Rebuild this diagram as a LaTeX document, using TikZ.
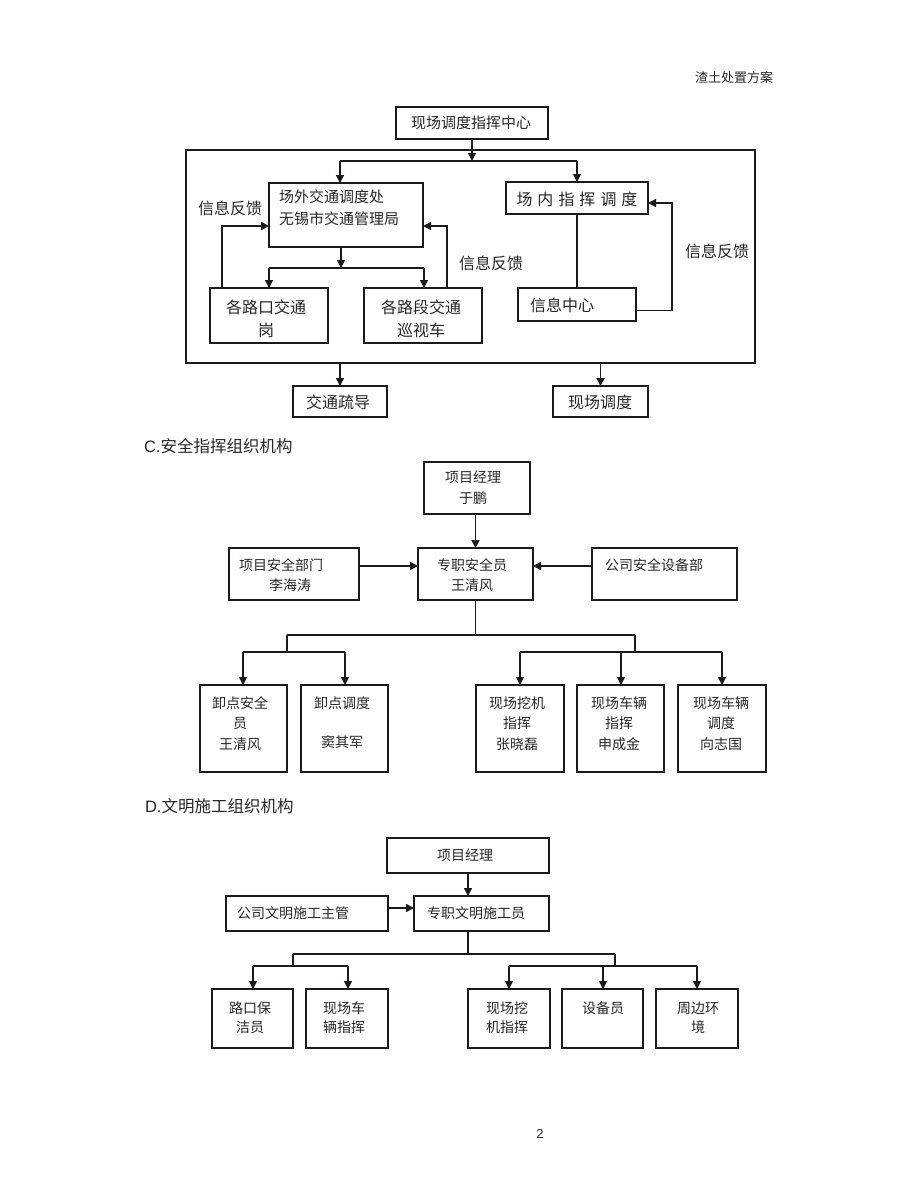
\documentclass[tikz,border=0pt]{standalone}
\usepackage{fontspec}
\newfontfamily\cjk{Noto Sans CJK SC}
\newfontfamily\arialf{Liberation Sans}
\usetikzlibrary{arrows.meta}
\definecolor{ink}{HTML}{1A1A1A}
\definecolor{txt}{HTML}{262626}
\newcommand\mybox[6][box]{\node[#1,minimum width={(#5-#3)*1pt},minimum height={(#6-#4)*1pt}] (#2) at ({(#3+#5)/2},{(#4+#6)/2}) {};}
\tikzset{
  box/.style={draw=ink,line width=1.4pt,inner sep=0pt,outer sep=0pt},
  bxc/.style={box,line width=1.7pt},
  bxd/.style={box,line width=1.9pt},
  ln/.style={draw=ink,line width=1.5pt},
  lnc/.style={draw=ink,line width=1.6pt},
  arr/.style={ln,-{Triangle[length=8pt,width=8pt]}},
  arrc/.style={lnc,-{Triangle[length=8pt,width=8pt]}},
  fbk/.style={arr,line width=2.2pt},
  tx/.style={inner sep=0pt,outer sep=0pt,text=txt,align=center},
  sa/.style={tx,font=\cjk\fontsize{15}{22}\selectfont},
  sb/.style={tx,font=\cjk\fontsize{16}{23}\selectfont},
  sc/.style={tx,font=\cjk\fontsize{14}{20.5}\selectfont},
  sd/.style={tx,font=\cjk\fontsize{14}{19}\selectfont},
  hd/.style={tx,font=\cjk\fontsize{16.5}{20}\selectfont},
}
\begin{document}
\begin{tikzpicture}[x=1pt,y=-1pt]
\useasboundingbox[fill=white] (0,0) rectangle (920,1192);
% page header and number
\node[tx,anchor=east,font=\cjk\fontsize{13}{15}\selectfont] (hdr) at (773,78) {渣土处置方案};
\node[tx,font=\arialf\fontsize{13}{15}\selectfont] (pg) at (540,1134) {2};

% ---------------- section 1 ----------------
\mybox{top}{396}{107}{548}{139}
\node[sa] (top-t) at (471,123) {现场调度指挥中心};
\mybox{outer}{186}{150}{755}{363}
\mybox{wai}{269}{183}{423}{247}
\node[sa,anchor=west,align=left] (wai-t) at (279,208) {场外交通调度处\\无锡市交通管理局};
\mybox{nei}{506}{182}{648}{214}
\node[sb] (nei-t) at (577,199) {场\hspace{5pt}内\hspace{5pt}指\hspace{5pt}挥\hspace{5pt}调\hspace{5pt}度};
\mybox{xin}{518}{288}{636}{321}
\node[sb,anchor=west] (xin-t) at (530,305) {信息中心};
\mybox{lukou}{210}{288}{328}{343}
\node[sb] (lukou-t) at (266,318.5) {各路口交通\\岗};
\mybox{luduan}{364}{288}{482}{343}
\node[sb] (luduan-t) at (421,318.5) {各路段交通\\巡视车};
\mybox{shudao}{293}{386}{387}{417}
\node[sb] (shudao-t) at (338,402) {交通疏导};
\mybox{xcdd}{553}{386}{648}{417}
\node[sb] (xcdd-t) at (600,402) {现场调度};
\node[sb] (fb1) at (230,208) {信息反馈};
\node[sb] (fb2) at (491,263) {信息反馈};
\node[sb] (fb3) at (717,251) {信息反馈};

\coordinate (j1) at (472,161);
\coordinate (j1L) at (340,161);
\coordinate (j1R) at (577,161);
\draw[arr] (top.south) -- (j1);
\draw[ln] (j1L) -- (j1R);
\draw[arr] (j1L) -- (j1L |- wai.north);
\draw[arr] (j1R) -- (j1R |- nei.north);
\draw[ln] (nei.south) -- (nei.south |- xin.north);
\coordinate (fbRc) at (672,203);
\draw[arr] ([yshift=-6pt]xin.east) -| (fbRc) -- (nei.east |- fbRc);
\coordinate (j2) at (341,268);
\coordinate (j2L) at (269,268);
\coordinate (j2R) at (424,268);
\draw[arr] (wai.south -| j2) -- (j2);
\draw[ln] (j2L) -- (j2R);
\draw[arr] (j2L) -- (j2L |- lukou.north);
\draw[arr] (j2R) -- (j2R |- luduan.north);
\coordinate (fbL) at (222,226);
\draw[fbk] (fbL |- lukou.north) -- (fbL) -- (fbL -| wai.west);
\coordinate (fbM) at (447,226);
\draw[arr] (fbM |- luduan.north) -- (fbM) -- (fbM -| wai.east);
\draw[arr] (outer.south -| shudao.north) -- (shudao.north);
\draw[arr] (outer.south -| xcdd.north) -- (xcdd.north);

% ---------------- section C ----------------
\node[hd,anchor=west] (hC) at (144,446) {{\arialf C.}安全指挥组织机构};
\mybox[bxc]{pm}{424}{462}{530}{514}
\node[sc,font=\cjk\fontsize{14}{21}\selectfont] (pm-t) at (473,488) {项目经理\\于鹏};
\mybox[bxc]{zz}{418}{548}{533}{600}
\node[sc,font=\cjk\fontsize{14}{19.5}\selectfont] (zz-t) at (472,575) {专职安全员\\王清风};
\mybox[bxc]{xmaq}{229}{548}{359}{600}
\node[sc,anchor=west,align=left,font=\cjk\fontsize{14}{19.5}\selectfont] (xmaq-t) at (239,575) {项目安全部门\\\hspace*{30pt}李海涛};
\mybox[bxc]{gsaq}{592}{548}{737}{600}
\node[sc,anchor=west] (gsaq-t) at (605,565) {公司安全设备部};
\draw[arrc] ([yshift=-18pt]xmaq.north east) -- ([yshift=-18pt]zz.north west);
\draw[arrc] ([yshift=-18pt]gsaq.north west) -- ([yshift=-18pt]zz.north east);
\draw[arrc] (pm.south -| zz.north) -- (zz.north);
\coordinate (cL) at (287,635);
\coordinate (cR) at (635,635);
\coordinate (cL2) at (287,652);
\coordinate (cR2) at (635,652);
\draw[ln] (zz.south) -- (zz.south |- cL);
\draw[ln] (cL) -- (cR);
\draw[ln] (cL) -- (cL2);
\draw[ln] (cR) -- (cR2);
\coordinate (a1) at (243,652);
\coordinate (a2) at (345,652);
\coordinate (a3) at (520,652);
\coordinate (a4) at (621,652);
\coordinate (a5) at (722,652);
\draw[ln] (a1) -- (a2);
\draw[ln] (a3) -- (a5);
\mybox[bxc]{cb1}{200}{685}{287}{772}
\mybox[bxc]{cb2}{301}{685}{388}{772}
\mybox[bxc]{cb3}{476}{685}{564}{772}
\mybox[bxc]{cb4}{577}{685}{664}{772}
\mybox[bxc]{cb5}{678}{685}{766}{772}
\draw[arrc] (a1) -- (a1 |- cb1.north);
\draw[arrc] (a2) -- (a2 |- cb2.north);
\draw[arrc] (a3) -- (a3 |- cb3.north);
\draw[arrc] (a4) -- (a4 |- cb4.north);
\draw[arrc] (a5) -- (a5 |- cb5.north);
\node[sc] (cb1-t) at (240,723.5) {卸点安全\\员\\王清风};
\node[sc] (cb2-t) at (342,722.5) {卸点调度\\[18.5pt]窦其军};
\node[sc] (cb3-t) at (517,723.5) {现场挖机\\指挥\\张晓磊};
\node[sc] (cb4-t) at (619,723.5) {现场车辆\\指挥\\申成金};
\node[sc] (cb5-t) at (721,723.5) {现场车辆\\调度\\向志国};

% ---------------- section D ----------------
\node[hd,anchor=west] (hD) at (145,806) {{\arialf D.}文明施工组织机构};
\mybox[bxd]{dpm}{387}{838}{549}{873}
\node[sd] (dpm-t) at (465,855) {项目经理};
\mybox[bxd]{dgs}{226}{896}{388}{931}
\node[sd,anchor=west] (dgs-t) at (237,913) {公司文明施工主管};
\mybox[bxd]{dzz}{414}{896}{549}{931}
\node[sd,anchor=west] (dzz-t) at (427,913) {专职文明施工员};
\draw[arrc] (dpm.south) -- (dpm.south |- dzz.north);
\draw[arrc] ([yshift=-12pt]dgs.north east) -- ([yshift=-12pt]dzz.north west);
\coordinate (dL) at (293,954);
\coordinate (dR) at (615,954);
\coordinate (dL2) at (293,966);
\coordinate (dR2) at (615,966);
\draw[lnc] (dpm.south |- dzz.south) -- (dpm.south |- dL);
\draw[lnc] (dL) -- (dR);
\draw[lnc] (dL) -- (dL2);
\draw[lnc] (dR) -- (dR2);
\coordinate (e1) at (253,966);
\coordinate (e2) at (348,966);
\coordinate (e3) at (509,966);
\coordinate (e4) at (603,966);
\coordinate (e5) at (697,966);
\draw[lnc] (e1) -- (e2);
\draw[lnc] (e3) -- (e5);
\mybox[bxd]{db1}{212}{989}{293}{1048}
\mybox[bxd]{db2}{306}{989}{388}{1048}
\mybox[bxd]{db3}{468}{989}{550}{1048}
\mybox[bxd]{db4}{562}{989}{643}{1048}
\mybox[bxd]{db5}{656}{989}{738}{1048}
\draw[arrc] (e1) -- (e1 |- db1.north);
\draw[arrc] (e2) -- (e2 |- db2.north);
\draw[arrc] (e3) -- (e3 |- db3.north);
\draw[arrc] (e4) -- (e4 |- db4.north);
\draw[arrc] (e5) -- (e5 |- db5.north);
\node[sd] (db1-t) at (250,1017.5) {路口保\\洁员};
\node[sd] (db2-t) at (344,1017.5) {现场车\\辆指挥};
\node[sd] (db3-t) at (507,1017.5) {现场挖\\机指挥};
\node[sd] (db4-t) at (603,1008) {设备员};
\node[sd] (db5-t) at (698,1017.5) {周边环\\境};
\end{tikzpicture}
\end{document}
